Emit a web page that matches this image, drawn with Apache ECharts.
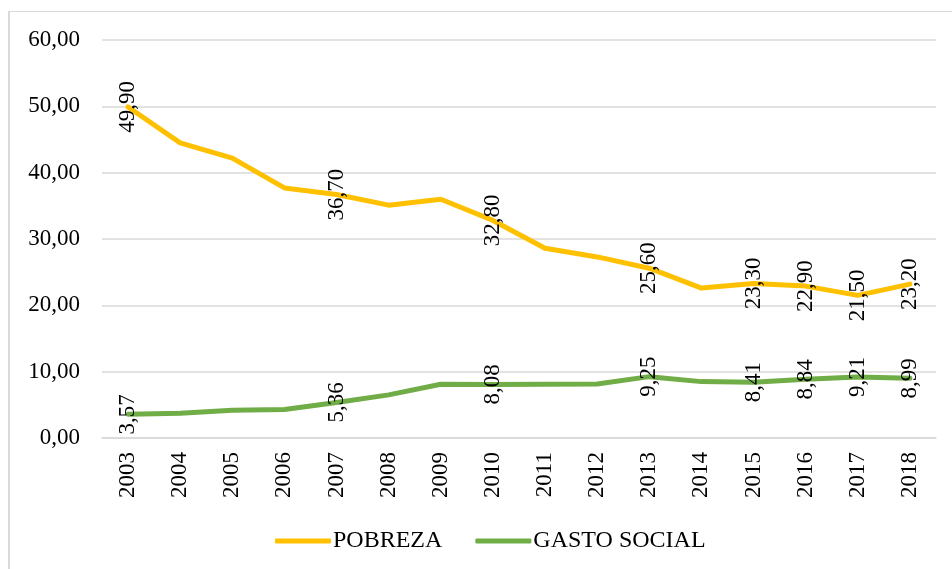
<!DOCTYPE html>
<html>
<head>
<meta charset="utf-8">
<script src="https://cdn.jsdelivr.net/npm/echarts@6/dist/echarts.min.js"></script>
<style>html,body{margin:0;padding:0;background:#fff;}#c{width:952px;height:569px;}</style>
</head>
<body>
<div id="c"></div>
<script>
const years = ['2003','2004','2005','2006','2007','2008','2009','2010','2011','2012','2013','2014','2015','2016','2017','2018'];
const pobreza = [49.9, 44.5, 42.2, 37.7, 36.7, 35.1, 36.0, 32.8, 28.6, 27.3, 25.6, 22.6, 23.3, 22.9, 21.5, 23.2];
const gastoSocial = [3.57, 3.72, 4.2, 4.3, 5.36, 6.5, 8.1, 8.08, 8.1, 8.15, 9.25, 8.5, 8.41, 8.84, 9.21, 8.99];
const pobrezaLabeled = [0, 4, 7, 10, 12, 13, 14, 15];
const gastoLabeled = [0, 4, 7, 10, 12, 13, 14, 15];
const yTicks = [0, 10, 20, 30, 40, 50, 60];

const FONT = 'Liberation Serif';
const fmt = v => Number(v).toFixed(2).replace('.', ',');

function build(values, labeled) {
  return values.map((v, i) => ({
    value: v,
    label: { show: labeled.indexOf(i) >= 0 }
  }));
}
const labelStyle = {
  show: false,
  position: 'inside',
  rotate: 90,
  align: 'center',
  verticalAlign: 'middle',
  fontFamily: FONT,
  fontSize: 23,
  color: '#000',
  formatter: p => fmt(p.value)
};

const chart = echarts.init(document.getElementById('c'), null, { renderer: 'canvas' });
chart.setOption({
  backgroundColor: '#fff',
  animation: false,
  graphic: [
    {
      type: 'line',
      shape: { x1: 9, y1: 11, x2: 9, y2: 569 },
      style: { stroke: '#d9d9d9', lineWidth: 2 },
      silent: true
    },
    {
      type: 'line',
      shape: { x1: 8, y1: 11.5, x2: 952, y2: 11.5 },
      style: { stroke: '#d9d9d9', lineWidth: 1 },
      silent: true
    }
  ],
  grid: { left: 102, right: 16, top: 40, bottom: 131, containLabel: false },
  legend: {
    left: 270,
    top: 524,
    itemWidth: 56,
    itemHeight: 5,
    itemGap: 33,
    textStyle: { fontFamily: FONT, fontSize: 24, color: '#000', padding: [0, 0, 0, -3] },
    data: [
      { name: 'POBREZA', icon: 'roundRect' },
      { name: 'GASTO SOCIAL', icon: 'roundRect' }
    ]
  },
  xAxis: {
    type: 'category',
    data: years,
    boundaryGap: true,
    axisLine: { show: true, lineStyle: { color: '#d9d9d9', width: 1.5 } },
    axisTick: { show: false },
    axisLabel: { rotate: 90, margin: 14, fontFamily: FONT, fontSize: 23, color: '#000', interval: 0 }
  },
  yAxis: {
    type: 'value',
    min: yTicks[0],
    max: yTicks[yTicks.length - 1],
    interval: 10,
    axisLine: { show: false },
    axisTick: { show: false },
    splitLine: { lineStyle: { color: '#d9d9d9', width: 1.5 } },
    axisLabel: { margin: 22, fontFamily: FONT, fontSize: 23, color: '#000', formatter: v => fmt(v) }
  },
  series: [
    {
      name: 'POBREZA',
      type: 'line',
      data: build(pobreza, pobrezaLabeled),
      color: '#FFC000',
      lineStyle: { color: '#FFC000', width: 5, cap: 'round', join: 'round' },
      symbol: 'circle',
      symbolSize: 1,
      showSymbol: true,
      itemStyle: { color: '#FFC000' },
      label: labelStyle,
      z: 3
    },
    {
      name: 'GASTO SOCIAL',
      type: 'line',
      data: build(gastoSocial, gastoLabeled),
      color: '#70AD47',
      lineStyle: { color: '#70AD47', width: 5, cap: 'round', join: 'round' },
      symbol: 'circle',
      symbolSize: 1,
      showSymbol: true,
      itemStyle: { color: '#70AD47' },
      label: labelStyle,
      z: 3
    }
  ]
});
</script>
</body>
</html>
